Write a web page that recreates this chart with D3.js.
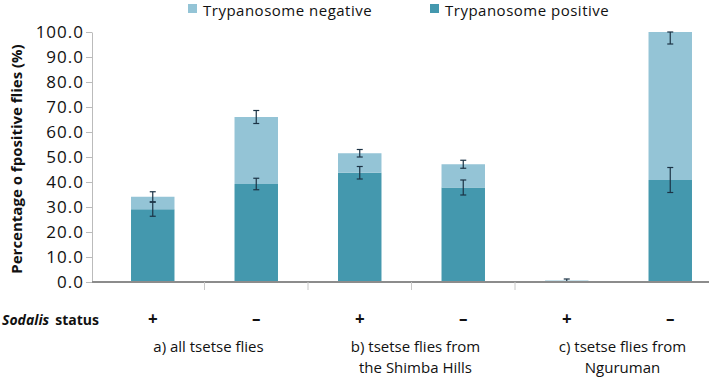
<!DOCTYPE html>
<html>
<head>
<meta charset="utf-8">
<script src="https://cdn.jsdelivr.net/npm/d3@7"></script>
<style>
body { margin: 0; background: #fff; }
text { font-family: 'Open Sans', sans-serif; fill: #111; }
</style>
</head>
<body>
<div id="chart"></div>
<script>
// values
const status = ['+', '\u2013', '+', '\u2013', '+', '\u2013']
const positive = [29.1, 39.2, 43.7, 37.8, 0.0, 40.8]
const total = [34.1, 66.0, 51.5, 47.1, 0.6, 100.0]
const posErr = [2.8, 2.3, 2.5, 3.0, 0.0, 5.0]
const totErr = [2.0, 2.6, 1.5, 1.6, 0.6, 4.8]
const groups = [['a) all tsetse flies'], ['b) tsetse flies from', 'the Shimba Hills'], ['c) tsetse flies from', 'Nguruman']]
const yTicks = [0, 10, 20, 30, 40, 50, 60, 70, 80, 90, 100]
const legendLabels = ['Trypanosome negative', 'Trypanosome positive']

const colNeg = '#94c4d6', colPos = '#4498ae', colErr = '#1c3345'

const width = 709, height = 377
const margin = { top: 32, right: 0, bottom: 95, left: 92 }

let svg = d3.select('#chart')
.append('svg')
.attr('width', width)
.attr('height', height)

let xScale = d3.scaleBand()
.domain(d3.range(status.length))
.range([101, 722])
.paddingInner(0.58)
.paddingOuter(0.29)

let yScale = d3.scaleLinear()
.domain([0, 100])
.range([height - margin.bottom, margin.top])

// y axis
let yAxis = svg.append('g')
.attr('transform', `translate(${margin.left}, 0)`)
.call(d3.axisLeft(yScale).tickValues(yTicks).tickFormat(d3.format('.1f')).tickSize(6).tickSizeOuter(0))
yAxis.select('.domain').attr('stroke', '#bbb')
yAxis.selectAll('.tick line').attr('stroke', '#bbb')
yAxis.selectAll('.tick text').attr('x', -8).style('font-size', '17px').style('letter-spacing', '1px').attr('fill', '#111')

// bars
let bars = svg.append('g')
bars.selectAll('.pos')
.data(positive)
.join('rect')
.attr('class', 'pos')
.attr('x', (d, i) => xScale(i))
.attr('width', xScale.bandwidth())
.attr('y', d => yScale(d))
.attr('height', d => yScale(0) - yScale(d))
.attr('fill', colPos)

bars.selectAll('.neg')
.data(total)
.join('rect')
.attr('class', 'neg')
.attr('x', (d, i) => xScale(i))
.attr('width', xScale.bandwidth())
.attr('y', d => yScale(d))
.attr('height', (d, i) => yScale(positive[i]) - yScale(d))
.attr('fill', colNeg)

// error bars
function errorBars(vals, errs, cls) {
	let g = svg.append('g').attr('class', cls)
	let data = vals.map((v, i) => ({ i, v, e: errs[i] })).filter(d => d.e > 0)
	let cx = d => xScale(d.i) + xScale.bandwidth() / 2
	let lo = d => yScale(Math.max(0, d.v - d.e))
	let hi = d => yScale(Math.min(100, d.v + d.e))
	g.selectAll('.v').data(data).join('line')
	.attr('x1', cx).attr('x2', cx).attr('y1', lo).attr('y2', hi)
	.attr('stroke', colErr).attr('stroke-width', 1.2)
	g.selectAll('.lo').data(data).join('line')
	.attr('x1', d => cx(d) - 3).attr('x2', d => cx(d) + 3).attr('y1', lo).attr('y2', lo)
	.attr('stroke', colErr).attr('stroke-width', 1.2)
	g.selectAll('.hi').data(data).join('line')
	.attr('x1', d => cx(d) - 3).attr('x2', d => cx(d) + 3).attr('y1', hi).attr('y2', hi)
	.attr('stroke', colErr).attr('stroke-width', 1.2)
}
errorBars(total, totErr, 'errTot')
errorBars(positive, posErr, 'errPos')

// x axis
let x0 = yScale(0)
svg.append('line')
.attr('x1', margin.left).attr('x2', width)
.attr('y1', x0).attr('y2', x0)
.attr('stroke', '#8c8c8c').attr('stroke-width', 2)

// separator ticks between bars
let sep = d3.range(1, status.length - 1).map(i => xScale(i) - xScale.step() * xScale.paddingInner() / 2)
svg.selectAll('.sep')
.data(sep)
.join('line')
.attr('x1', d => d).attr('x2', d => d)
.attr('y1', x0).attr('y2', x0 + 8)
.attr('stroke', '#c8c8c8')

// status row
let statusY = 325
let sl = svg.append('text')
.attr('x', 2).attr('y', statusY)
.style('font-size', '14px').style('font-weight', 'bold')
sl.append('tspan').style('font-style', 'italic').text('Sodalis')
sl.append('tspan').attr('dx', 6).text('status')

svg.selectAll('.status')
.data(status)
.join('text')
.attr('class', 'status')
.attr('x', (d, i) => xScale(i) + xScale.bandwidth() / 2)
.attr('y', statusY)
.attr('text-anchor', 'middle')
.style('font-size', '17px')
.style('font-weight', 'bold')
.text(d => d)

// group labels
svg.selectAll('.grp')
.data(groups)
.join('text')
.attr('class', 'grp')
.attr('x', (d, i) => (xScale(2 * i) + xScale(2 * i + 1) + xScale.bandwidth()) / 2 + 4)
.attr('y', 352)
.attr('text-anchor', 'middle')
.style('font-size', '15px')
.selectAll('tspan')
.data(d => d)
.join('tspan')
.attr('x', function() { return this.parentNode.getAttribute('x') })
.attr('dy', (d, i) => i ? 21 : 0)
.text(d => d)

// y title
svg.append('text')
.attr('transform', `translate(22, ${(yScale(0) + yScale(100)) / 2 + 2}) rotate(-90)`)
.attr('text-anchor', 'middle')
.style('font-size', '15px')
.style('font-weight', 'bold')
.text('Percentage o fpositive flies (%)')

// legend
let legX = [188, 430]
let leg = svg.selectAll('.leg')
.data(legendLabels)
.join('g')
.attr('class', 'leg')
.attr('transform', (d, i) => `translate(${legX[i]}, 4)`)
leg.append('rect')
.attr('width', 9).attr('height', 9)
.attr('fill', (d, i) => i ? colPos : colNeg)
leg.append('text')
.attr('x', 15).attr('y', 12)
.style('font-size', '15px')
.style('letter-spacing', '0.5px')
.text(d => d)
</script>
</body>
</html>
